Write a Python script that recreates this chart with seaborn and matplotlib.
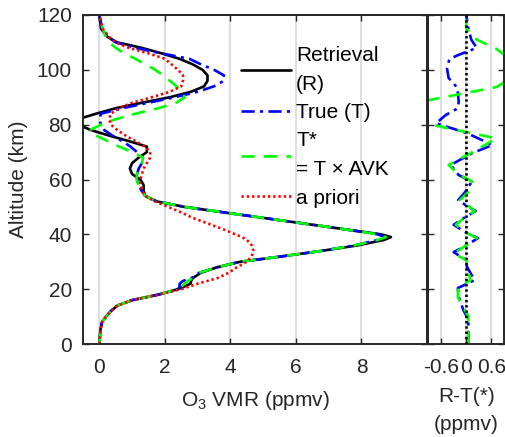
import numpy as np
import pandas as pd
import matplotlib
matplotlib.use("Agg")
import matplotlib.pyplot as plt
import seaborn as sns

# ---------------- data ----------------
alt = [0, 5, 8, 10, 12, 14, 16, 18, 20, 21, 22, 23, 24, 26, 28, 30, 32, 34, 36, 38, 39, 40,
       42, 44, 46, 48, 50, 52, 54, 56, 58, 60, 62, 64, 66, 68, 70, 72, 74, 76, 78, 80, 82,
       84, 86, 88, 90, 92, 94, 96, 98, 100, 102, 104, 106, 108, 110, 112, 115, 120]

retrieval = [0.0, 0.03, 0.08, 0.2, 0.35, 0.55, 1.0, 1.8, 2.4, 2.6, 2.78, 2.8, 2.85, 3.1, 3.6,
             4.3, 5.6, 6.8, 7.9, 8.7, 8.9, 8.6, 7.4, 6.2, 5.0, 3.8, 2.6, 1.75, 1.4, 1.35, 1.35,
             1.25, 1.0, 0.93, 1.0, 1.2, 1.45, 1.45, 0.9, 0.3, -0.25, -0.65, -0.65, -0.1, 0.5,
             1.3, 2.15, 2.8, 3.2, 3.3, 3.3, 3.15, 2.85, 2.45, 1.9, 1.3, 0.55, 0.25, 0.05, 0.0]

true_t = [0.0, 0.03, 0.08, 0.2, 0.35, 0.55, 1.0, 1.8, 2.4, 2.45, 2.45, 2.55, 2.8, 3.05, 3.6,
          4.3, 5.6, 6.8, 7.8, 8.5, 8.7, 8.5, 7.4, 6.2, 5.0, 3.8, 2.6, 1.75, 1.4, 1.28, 1.2,
          1.15, 1.15, 1.2, 1.3, 1.33, 1.15, 0.95, 0.7, 0.4, 0.15, 0.05, 0.0, 0.05, 0.7,
          1.5, 2.3, 3.0, 3.5, 3.8, 3.8, 3.5, 3.1, 2.75, 1.9, 1.1, 0.5, 0.25, 0.08, 0.0]

t_star = [0.0, 0.03, 0.08, 0.2, 0.35, 0.55, 1.0, 1.8, 2.4, 2.5, 2.6, 2.7, 2.85, 3.05, 3.6,
          4.3, 5.6, 6.8, 7.8, 8.5, 8.75, 8.5, 7.4, 6.2, 5.0, 3.8, 2.6, 1.75, 1.4, 1.3, 1.2,
          1.13, 1.15, 1.2, 1.3, 1.33, 1.0, 0.6, 0.25, -0.1, -0.3, 0.05, 0.5, 1.1, 1.8,
          2.35, 2.6, 2.55, 2.35, 2.15, 1.95, 1.7, 1.4, 1.1, 0.75, 0.5, 0.3, 0.2, 0.1, 0.0]

a_priori = [0.0, 0.03, 0.08, 0.2, 0.35, 0.55, 1.0, 1.8, 2.5, 2.75, 3.0, 3.3, 3.6, 3.95, 4.2,
            4.5, 4.65, 4.7, 4.65, 4.5, 4.35, 4.15, 3.75, 3.3, 2.85, 2.5, 2.1, 1.7, 1.4, 1.3,
            1.25, 1.25, 1.3, 1.35, 1.45, 1.55, 1.55, 1.4, 1.1, 0.8, 0.55, 0.35, 0.3, 0.35,
            0.6, 1.0, 1.6, 2.15, 2.5, 2.55, 2.55, 2.4, 2.2, 2.0, 1.5, 0.9, 0.5, 0.3, 0.1, 0.0]

diff_t_alt = [0, 9, 12.4, 17.3, 20.4, 23.3, 28, 30.6, 33.5, 36, 38.6, 41, 43.5, 46, 48.5,
              50.5, 52.5, 55.5, 59.2, 61.6, 65.3, 69.6, 72.6, 77, 80.5, 83.5, 86, 88.4,
              93.4, 97, 100.6, 104, 105.4, 108, 111, 115, 120]
r_minus_t = [0.05, 0.05, -0.07, -0.18, -0.2, 0.2, 0.02, 0.0, -0.3, 0.0, 0.28, -0.05, -0.3,
             -0.05, 0.22, 0.0, -0.19, -0.02, 0.13, -0.18, -0.37, 0.14, 0.63, 0.0, -0.72,
             -0.49, -0.2, -0.18, -0.21, -0.42, -0.46, -0.4, -0.19, 0.25, 0.12, 0.05, 0.0]

diff_ts_alt = [0, 10, 17, 20.4, 23.3, 28, 30.6, 33, 36, 38.6, 41, 43.5, 46, 48.5, 50.5, 52.5,
               55.5, 59.2, 62, 65.3, 69.6, 75, 80, 84, 88, 89, 93.7, 100, 107.6, 111, 115, 120]
r_minus_tstar = [0.05, 0.05, -0.2, -0.2, 0.1, 0.02, 0.0, -0.3, 0.0, 0.25, -0.05, -0.25, -0.05,
                 0.2, 0.05, -0.15, 0.05, 0.15, -0.2, -0.42, 0.1, 0.72, -0.84, -1.7, -1.2,
                 -0.88, 0.72, 1.4, 0.72, 0.25, 0.0, 0.0]

main_xticks = [0, 2, 4, 6, 8]
diff_xticks = [-0.6, 0, 0.6]
diff_xticklabels = ["-0.6", "0", "0.6"]
yticks = [0, 20, 40, 60, 80, 100, 120]

# ---------------- style ----------------
sns.set_theme(style="white")
plt.rcParams["font.family"] = ["Liberation Sans", "DejaVu Sans"]
plt.rcParams["mathtext.fontset"] = "custom"
plt.rcParams["mathtext.rm"] = "Liberation Sans"
FS = 15
DARK = "#262626"
GRID = "#dedede"

fig = plt.figure(figsize=(5.06, 4.37), dpi=100)
W, H = 506, 437
ax = fig.add_axes([83 / W, (H - 344) / H, (427 - 83) / W, 329 / H])
ax2 = fig.add_axes([428.5 / W, (H - 344) / H, (504 - 428.5) / W, 329 / H])

lw = 1.9
DASHDOT = (0, (5, 2, 1.2, 2))
DASH = (0, (5, 3.5))
DOT = (0, (0.9, 1.1))
sns.lineplot(x=retrieval, y=alt, sort=False, estimator=None, ax=ax, color="black",
             linewidth=lw, linestyle="-", label="Retrieval\n(R)")
sns.lineplot(x=true_t, y=alt, sort=False, estimator=None, ax=ax, color="#0000ff",
             linewidth=lw, linestyle=DASHDOT, label="True (T)")
sns.lineplot(x=t_star, y=alt, sort=False, estimator=None, ax=ax, color="#00ff00",
             linewidth=lw, linestyle=DASH, label="T*\n= T × AVK")
sns.lineplot(x=a_priori, y=alt, sort=False, estimator=None, ax=ax, color="#ff0000",
             linewidth=lw, linestyle=DOT, label="a priori")

ax2.axvline(0, color="black", linewidth=lw, linestyle=DOT, zorder=3)
sns.lineplot(x=r_minus_t, y=diff_t_alt, sort=False, estimator=None, ax=ax2, color="#0000ff",
             linewidth=lw, linestyle=DASHDOT)
sns.lineplot(x=r_minus_tstar, y=diff_ts_alt, sort=False, estimator=None, ax=ax2,
             color="#00ff00", linewidth=lw, linestyle=DASH)

for a in (ax, ax2):
    a.set_ylim(0, 120)
    a.set_yticks(yticks)
    a.xaxis.grid(True, color=GRID, linewidth=1.5)
    a.yaxis.grid(False)
    a.set_axisbelow(True)
    for s in a.spines.values():
        s.set_color(DARK)
        s.set_linewidth(1.4)
    a.tick_params(direction="in", length=4, width=1.0, color=DARK, labelcolor=DARK,
                  labelsize=FS, top=True, right=True, bottom=True, left=True)
    a.tick_params(axis="x", pad=10)
    a.tick_params(axis="y", pad=8)

ax.set_xlim(-0.5, 10)
ax.set_xticks(main_xticks)
ax.set_ylabel("Altitude (km)", fontsize=FS, color=DARK, labelpad=6)
ax.set_xlabel(r"O$_{\mathregular{3}}$ VMR (ppmv)", fontsize=FS, color=DARK, labelpad=9)

ax2.set_xlim(-0.9, 0.9)
ax2.set_xticks(diff_xticks)
ax2.set_xticklabels(diff_xticklabels)
ax2.set_yticklabels([])
ax2.set_ylabel("")
ax2.set_xlabel("R-T(*)\n(ppmv)", fontsize=FS, color=DARK, labelpad=7, linespacing=1.65)

leg = ax.legend(loc="upper left", bbox_to_anchor=(241 / W, 1 - 46 / H),
                bbox_transform=fig.transFigure, frameon=False, fontsize=FS,
                handlelength=2.4, handletextpad=0.25, labelspacing=0.45, borderpad=0,
                borderaxespad=0)
for t in leg.get_texts():
    t.set_linespacing(1.65)
    t.set_color("black")

fig.savefig("out.png", dpi=100)
